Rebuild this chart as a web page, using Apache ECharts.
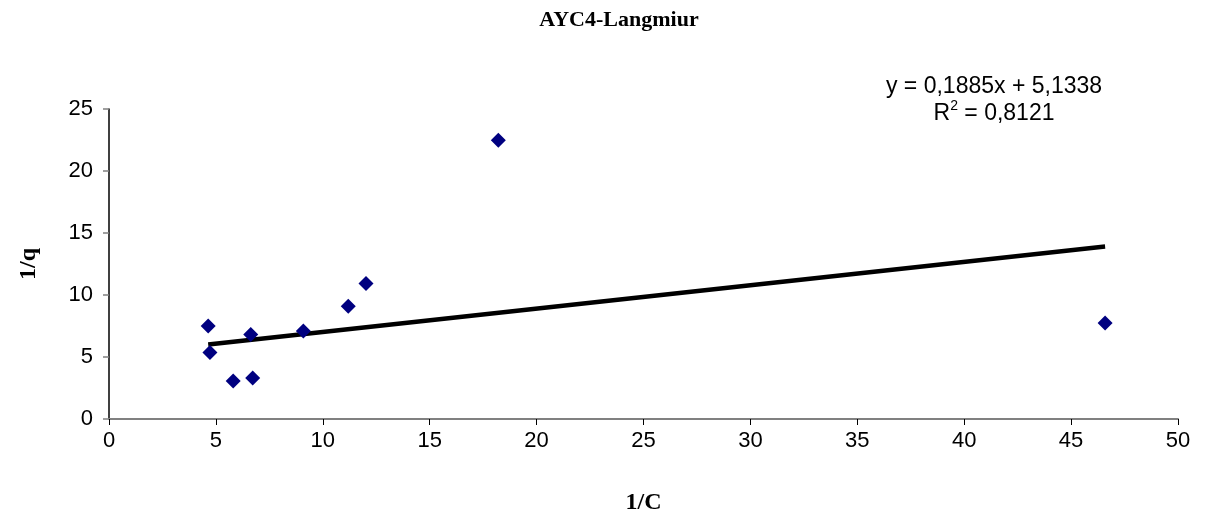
<!DOCTYPE html>
<html>
<head>
<meta charset="utf-8">
<script src="https://cdn.jsdelivr.net/npm/echarts@6/dist/echarts.min.js"></script>
<style>
html,body{margin:0;padding:0;background:#fff;}
#chart{width:1212px;height:521px;}
</style>
</head>
<body>
<div id="chart"></div>
<script>
const titleText = "AYC4-Langmiur";
const xTitle = "1/C";
const yTitle = "1/q";
const xValues = [4.64, 4.72, 5.81, 6.72, 6.63, 9.09, 11.19, 12.02, 18.21, 46.59];
const yValues = [7.51, 5.36, 3.07, 3.31, 6.81, 7.10, 9.10, 10.93, 22.47, 7.75];
const slope = 0.1885;
const intercept = 5.1338;
const eqLine1 = "y = 0,1885x + 5,1338";
const eqR2Value = "0,8121";

const points = xValues.map((x, i) => [x, yValues[i]]);
const xMin = Math.min(...xValues), xMax = Math.max(...xValues);
const trend = [[xMin, slope * xMin + intercept], [xMax, slope * xMax + intercept]];

const chart = echarts.init(document.getElementById('chart'), null, {renderer: 'canvas'});
chart.setOption({
  backgroundColor: '#ffffff',
  animation: false,
  title: {
    text: titleText,
    left: 614, top: 4, textAlign: 'center',
    textStyle: {fontFamily: 'Liberation Serif', fontWeight: 'bold', fontSize: 22, color: '#000'}
  },
  grid: {left: 109, right: 34, top: 109, bottom: 102},
  xAxis: {
    type: 'value', min: 0, max: 50, interval: 5,
    name: xTitle, nameLocation: 'middle', nameGap: 72,
    nameTextStyle: {fontFamily: 'Liberation Serif', fontWeight: 'bold', fontSize: 24, color: '#000'},
    axisLine: {lineStyle: {color: '#808080', width: 2}},
    axisTick: {inside: false, length: 6, lineStyle: {color: '#000', width: 1}},
    axisLabel: {fontFamily: 'Liberation Sans', fontSize: 22, color: '#000', margin: 11},
    splitLine: {show: false}
  },
  yAxis: {
    type: 'value', min: 0, max: 25, interval: 5,
    name: yTitle, nameLocation: 'middle', nameGap: 68, nameRotate: 90,
    nameTextStyle: {fontFamily: 'Liberation Serif', fontWeight: 'bold', fontSize: 24, color: '#000'},
    axisLine: {onZero: false, lineStyle: {color: '#000', width: 1.5}},
    axisTick: {inside: false, length: 6, lineStyle: {color: '#808080', width: 1.5}},
    axisLabel: {fontFamily: 'Liberation Sans', fontSize: 22, color: '#000', margin: 16},
    splitLine: {show: false}
  },
  graphic: [{
    type: 'text', x: 994, y: 87,
    style: {
      text: eqLine1,
      font: '23px "Liberation Sans"', fill: '#000', align: 'center', verticalAlign: 'middle'
    }
  }, {
    type: 'text', x: 994, y: 112,
    style: {
      text: '{n|R}{s|2}{n| = ' + eqR2Value + '}',
      align: 'center', verticalAlign: 'middle',
      rich: {
        n: {fontFamily: 'Liberation Sans', fontSize: 23, fill: '#000', color: '#000', verticalAlign: 'bottom', lineHeight: 26},
        s: {fontFamily: 'Liberation Sans', fontSize: 14, fill: '#000', color: '#000', verticalAlign: 'top', lineHeight: 26, padding: [0, 0, 10, 0]}
      }
    }
  }],
  series: [{
    type: 'line', data: trend, showSymbol: false, symbol: 'none',
    lineStyle: {color: '#000', width: 4.5}, z: 2, silent: true
  }, {
    type: 'scatter', data: points, symbol: 'diamond', symbolSize: 15,
    itemStyle: {color: '#000080', opacity: 1}, z: 3
  }]
});
</script>
</body>
</html>
